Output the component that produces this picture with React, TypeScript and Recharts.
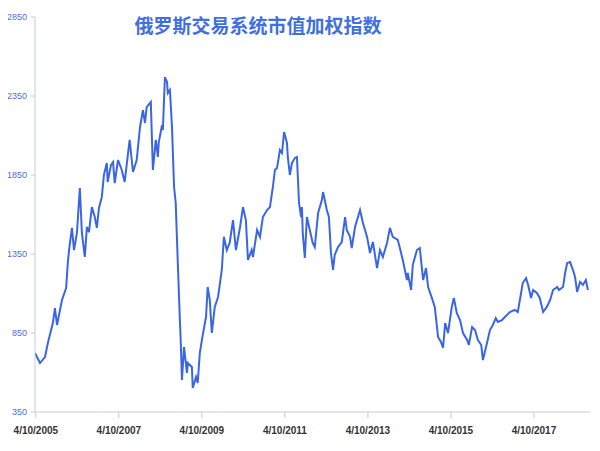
import { CartesianGrid, Line, LineChart, XAxis, YAxis } from 'recharts';

// year fraction of each sample
const times = [
  2005.25, 2005.37, 2005.49, 2005.56, 2005.68, 2005.73, 2005.78, 2005.9, 2006.0, 2006.04,
  2006.07, 2006.14, 2006.19, 2006.26, 2006.33, 2006.38, 2006.45, 2006.5, 2006.55, 2006.62,
  2006.69, 2006.74, 2006.79, 2006.86, 2006.91, 2006.98, 2007.0, 2007.08, 2007.13, 2007.17,
  2007.25, 2007.34, 2007.41, 2007.53, 2007.61, 2007.7, 2007.78, 2007.85, 2007.9, 2007.94,
  2008.04, 2008.09, 2008.16, 2008.21, 2008.23, 2008.31, 2008.33, 2008.38, 2008.43, 2008.45,
  2008.5, 2008.55, 2008.6, 2008.64, 2008.69, 2008.74, 2008.76, 2008.79, 2008.84, 2008.91,
  2008.93, 2009.03, 2009.05, 2009.13, 2009.17, 2009.22, 2009.29, 2009.37, 2009.41, 2009.46,
  2009.51, 2009.58, 2009.66, 2009.75, 2009.8, 2009.87, 2009.94, 2010.02, 2010.09, 2010.19,
  2010.26, 2010.33, 2010.38, 2010.47, 2010.5, 2010.6, 2010.67, 2010.74, 2010.84, 2010.91,
  2010.98, 2011.03, 2011.08, 2011.15, 2011.2, 2011.25, 2011.32, 2011.34, 2011.39, 2011.44,
  2011.51, 2011.56, 2011.61, 2011.66, 2011.68, 2011.7, 2011.75, 2011.8, 2011.87, 2011.94,
  2011.99, 2012.07, 2012.16, 2012.19, 2012.28, 2012.33, 2012.38, 2012.43, 2012.47, 2012.55,
  2012.64, 2012.72, 2012.76, 2012.84, 2012.88, 2012.96, 2013.08, 2013.15, 2013.25, 2013.32,
  2013.39, 2013.49, 2013.56, 2013.63, 2013.73, 2013.8, 2013.87, 2013.99, 2014.07, 2014.11,
  2014.21, 2014.23, 2014.31, 2014.35, 2014.45, 2014.52, 2014.6, 2014.67, 2014.72, 2014.81,
  2014.88, 2014.96, 2015.03, 2015.08, 2015.13, 2015.2, 2015.29, 2015.34, 2015.41, 2015.49,
  2015.56, 2015.66, 2015.7, 2015.78, 2015.85, 2015.92, 2016.0, 2016.04, 2016.11, 2016.21,
  2016.28, 2016.35, 2016.4, 2016.5, 2016.57, 2016.69, 2016.81, 2016.88, 2016.96, 2017.0,
  2017.08, 2017.13, 2017.2, 2017.25, 2017.34, 2017.41, 2017.49, 2017.58, 2017.66, 2017.73,
  2017.83, 2017.87, 2017.97, 2018.02, 2018.07, 2018.14, 2018.21, 2018.26, 2018.31, 2018.38,
  2018.45, 2018.52, 2018.57,
];

// index value
const values = [
  723, 660, 698, 787, 913, 1008, 901, 1059, 1135, 1293,
  1375, 1515, 1375, 1483, 1768, 1483, 1331, 1521, 1489, 1647,
  1584, 1515, 1641, 1711, 1850, 1926, 1806, 1913, 1932, 1799,
  1945, 1882, 1806, 2072, 1869, 1945, 2154, 2261, 2179, 2280,
  2312, 1882, 2072, 1964, 2053, 2166, 2135, 2470, 2439, 2369,
  2388, 2154, 1774, 1673, 1293, 932, 806, 553, 761, 597,
  660, 635, 502, 572, 534, 723, 837, 951, 1141, 1059,
  850, 1015, 1078, 1249, 1458, 1375, 1420, 1565, 1375, 1521,
  1647, 1565, 1312, 1375, 1331, 1502, 1458, 1584, 1628, 1647,
  1774, 1882, 1894, 2008, 1989, 2122, 2053, 1964, 1850, 1926,
  1958, 1964, 1673, 1584, 1647, 1483, 1325, 1584, 1502, 1420,
  1394, 1610, 1692, 1742, 1628, 1584, 1356, 1249, 1344, 1394,
  1426, 1584, 1502, 1458, 1388, 1521, 1628, 1546, 1458, 1356,
  1426, 1261, 1375, 1331, 1420, 1515, 1458, 1439, 1356, 1312,
  1185, 1230, 1122, 1280, 1375, 1388, 1185, 1261, 1141, 1072,
  1015, 825, 793, 755, 913, 850, 1015, 1072, 977, 932,
  850, 806, 774, 888, 869, 806, 774, 679, 755, 869,
  901, 945, 920, 932, 951, 983, 996, 983, 1103, 1166,
  1198, 1154, 1072, 1122, 1103, 1072, 983, 1015, 1059, 1122,
  1141, 1122, 1141, 1230, 1293, 1299, 1249, 1204, 1110, 1173,
  1154, 1185, 1122,
];

const xTicks = [2005.27, 2007.27, 2009.27, 2011.27, 2013.27, 2015.27, 2017.27];
const yTicks = [350, 850, 1350, 1850, 2350, 2850];
const title = '俄罗斯交易系统市值加权指数';

const data = times.map((t, i) => ({ t, v: values[i] }));

const sans = "'Liberation Sans', Arial, sans-serif";

export default function App() {
  return (
    <div
      style={{
        position: 'relative',
        width: 600,
        height: 451,
        margin: -8,
        background: '#fff',
        boxSizing: 'border-box',
        border: '1px solid #d8d8d8',
      }}
    >
      <div
        style={{
          position: 'absolute',
          top: 12,
          left: 130,
          width: 254,
          textAlign: 'center',
          fontFamily: "'Noto Sans CJK SC', sans-serif",
          fontWeight: 700,
          fontSize: 19,
          color: '#3f6fe0',
          lineHeight: '24px',
        }}
      >
        {title}
      </div>
      <LineChart
        width={598}
        height={449}
        data={data}
        margin={{ top: 16, right: 9, bottom: 8, left: 0 }}
        style={{ position: 'absolute', top: 0, left: 0 }}
      >
        <CartesianGrid stroke="none" />
        <XAxis
          dataKey="t"
          type="number"
          domain={[2005.25, 2018.62]}
          ticks={xTicks}
          allowDataOverflow
          tickFormatter={(v: number) => `4/10/${Math.floor(v)}`}
          stroke="#c3ccda"
          height={30}
          tickSize={6}
          tick={{ fill: '#333', fontSize: 10, fontWeight: 700, fontFamily: sans }}
          tickMargin={9}
        />
        <YAxis
          type="number"
          domain={[350, 2850]}
          ticks={yTicks}
          width={34}
          stroke="#c3ccda"
          tickSize={4}
          tick={{ fill: '#4a6fd6', fontSize: 9, fontFamily: sans }}
          tickMargin={4}
        />
        <Line
          type="linear"
          dataKey="v"
          stroke="#3a66e6"
          strokeWidth={2}
          dot={false}
          isAnimationActive={false}
        />
      </LineChart>
    </div>
  );
}
